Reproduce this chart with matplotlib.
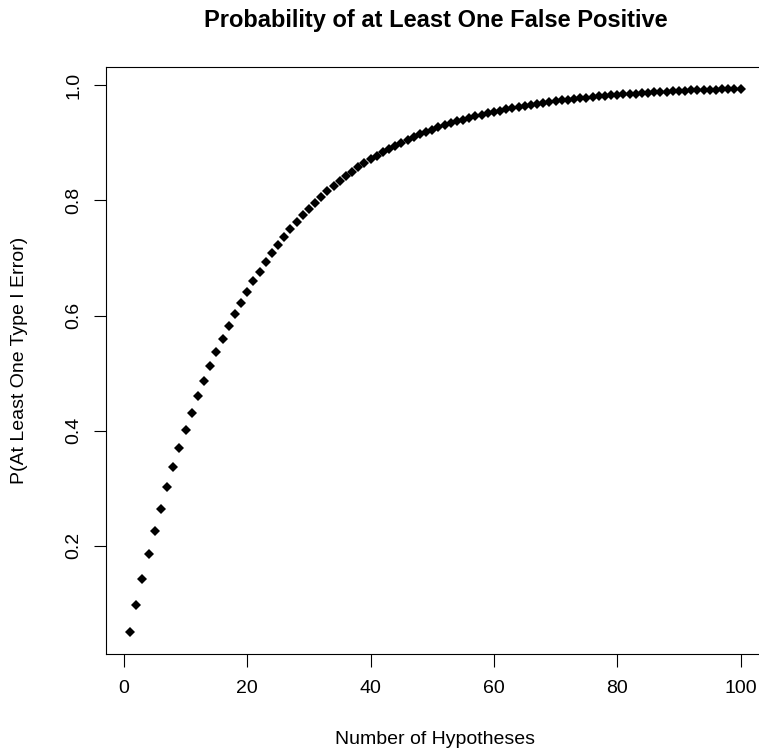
import matplotlib
matplotlib.use("Agg")
import matplotlib.pyplot as plt

plt.rcParams['font.family'] = ['Liberation Sans', 'DejaVu Sans']

n_hypotheses = list(range(1, 101))
p_error = [
    0.0500, 0.0975, 0.1426, 0.1855, 0.2262, 0.2649, 0.3017, 0.3366, 0.3698, 0.4013,
    0.4312, 0.4596, 0.4867, 0.5123, 0.5367, 0.5599, 0.5819, 0.6028, 0.6226, 0.6415,
    0.6594, 0.6765, 0.6926, 0.7080, 0.7226, 0.7365, 0.7497, 0.7622, 0.7741, 0.7854,
    0.7961, 0.8063, 0.8160, 0.8252, 0.8339, 0.8422, 0.8501, 0.8576, 0.8647, 0.8715,
    0.8779, 0.8840, 0.8898, 0.8953, 0.9006, 0.9055, 0.9103, 0.9147, 0.9190, 0.9231,
    0.9269, 0.9306, 0.9340, 0.9373, 0.9405, 0.9434, 0.9463, 0.9490, 0.9515, 0.9539,
    0.9562, 0.9584, 0.9605, 0.9625, 0.9644, 0.9661, 0.9678, 0.9694, 0.9710, 0.9724,
    0.9738, 0.9751, 0.9764, 0.9775, 0.9787, 0.9797, 0.9807, 0.9817, 0.9826, 0.9835,
    0.9843, 0.9851, 0.9858, 0.9865, 0.9872, 0.9879, 0.9885, 0.9890, 0.9896, 0.9901,
    0.9906, 0.9911, 0.9915, 0.9919, 0.9923, 0.9927, 0.9931, 0.9934, 0.9938, 0.9941,
]
x_ticks = [0, 20, 40, 60, 80, 100]
y_ticks = [0.2, 0.4, 0.6, 0.8, 1.0]

W, H = 759, 753
fig = plt.figure(figsize=(W / 100, H / 100), dpi=100)
left, right, top, bottom = 105.7, 765.0, 67.0, 654.0
ax = fig.add_axes([left / W, 1 - bottom / H, (right - left) / W, (bottom - top) / H])

ax.plot(n_hypotheses, p_error, linestyle='none', marker='D', markersize=4.8,
        color='black', markeredgewidth=0)

xr = max(n_hypotheses) - min(n_hypotheses)
ax.set_xlim(min(n_hypotheses) - 0.04 * xr, max(n_hypotheses) + 0.04 * xr)
yr = max(p_error) - min(p_error)
ax.set_ylim(min(p_error) - 0.04 * yr, max(p_error) + 0.04 * yr)

ax.set_xticks(x_ticks)
ax.set_xticklabels([str(v) for v in x_ticks])
ax.set_yticks(y_ticks)
ax.set_yticklabels([f"{v:.1f}" for v in y_ticks], rotation=90, va='center')

ax.tick_params(axis='both', direction='out', length=9, width=0.8, labelsize=14, colors='black')
ax.tick_params(axis='x', pad=10)
ax.tick_params(axis='y', pad=8)
for s in ax.spines.values():
    s.set_linewidth(0.8)

ax.set_xlabel('Number of Hypotheses', fontsize=14, va='center')
ax.xaxis.set_label_coords(0.5, -(740 - bottom) / (bottom - top))
ax.set_ylabel('P(At Least One Type I Error)', fontsize=14, va='center')
ax.yaxis.set_label_coords(-(left - 20) / (right - left), 0.5)

fig.text((left + right) / 2 / W, 1 - 20 / H, 'Probability of at Least One False Positive',
         ha='center', va='center', fontsize=17, fontweight='bold')

fig.savefig('out.png', dpi=100)
